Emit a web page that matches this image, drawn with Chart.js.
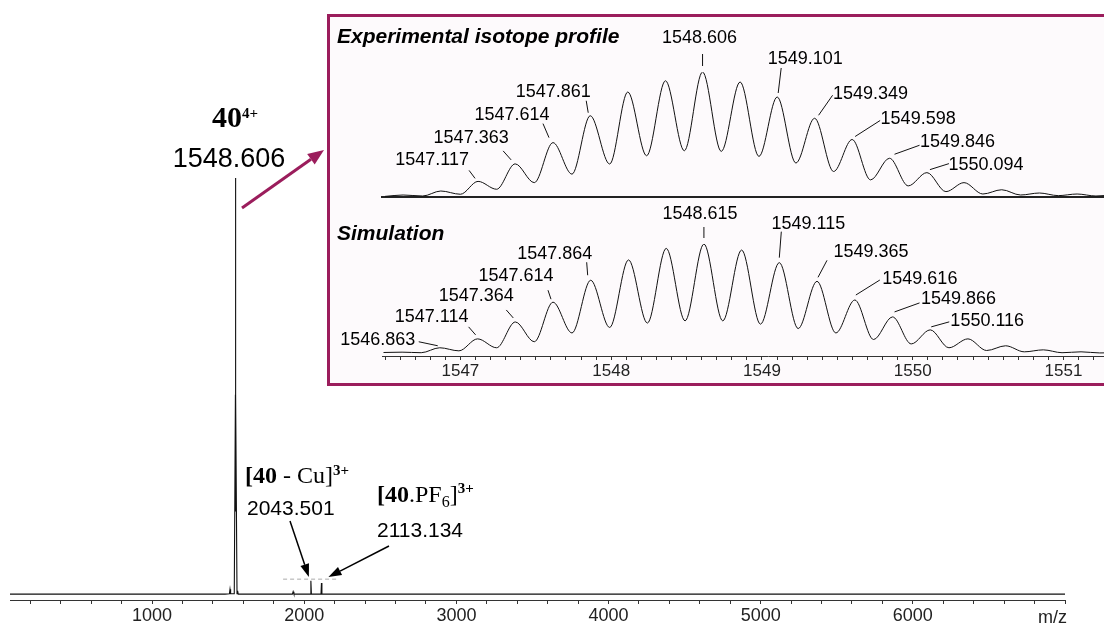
<!DOCTYPE html>
<html>
<head>
<meta charset="utf-8">
<script src="https://cdn.jsdelivr.net/npm/chart.js@4.4.0/dist/chart.umd.min.js"></script>
<style>
  html, body { margin: 0; padding: 0; overflow: hidden; background: #fff; }
  #wrap { position: relative; width: 1104px; height: 626px; }
  #mainChart { position: absolute; left: 0; top: 0; }
  #inset {
    position: absolute; left: 327px; top: 14px; width: 830px; height: 366px;
    border: 3px solid #9b1d5c; background: #fdfafc;
  }
  #expChart { position: absolute; left: 0; top: 0; }
  #simChart { position: absolute; left: 0; top: 183px; }
</style>
</head>
<body>
<div id="wrap">
  <canvas id="mainChart" width="1104" height="626"></canvas>
  <div id="inset">
    <canvas id="expChart" width="830" height="183"></canvas>
    <canvas id="simChart" width="830" height="183"></canvas>
  </div>
</div>
<script>
// full spectrum (m/z, relative intensity)
const mainMz  = [66, 1480, 1508, 1512, 1516, 1540, 1547.6, 1548.0, 1548.606, 1549.2, 1549.6, 1558, 1562, 1566, 1922, 1927, 1932, 2040, 2043.5, 2047, 2110, 2113.1, 2116, 7000];
const mainInt = [0.2, 0.2, 0.3, 1.4, 0.3, 0.3, 48, 20, 100, 20, 48, 0.3, 1.0, 0.2, 0.2, 0.8, 0.2, 0.2, 3.4, 0.2, 0.2, 2.9, 0.2, 0.2];
const mainTickLabels = [1000, 2000, 3000, 4000, 5000, 6000];
// grey dashed trace above the 3+ ions
const dashMz  = [1861, 2216];
const dashInt = [3.8, 3.8];

// experimental isotope profile: peaks and the minima between them
const expPeakMz   = [1546.62, 1546.87, 1547.117, 1547.363, 1547.614, 1547.861, 1548.11, 1548.36, 1548.606, 1548.855, 1549.101, 1549.349, 1549.598, 1549.846, 1550.094, 1550.34, 1550.59, 1550.84, 1551.09, 1551.34];
const expPeakInt  = [1.6, 4.8, 12.5, 26.5, 43.5, 65, 84, 93, 100, 92, 80, 63, 46, 31, 19.5, 11.5, 5.8, 3.2, 2.4, 1.6];
const expValleyMz = [1546.50, 1546.75, 1547.0, 1547.24, 1547.49, 1547.74, 1547.99, 1548.235, 1548.485, 1548.73, 1548.98, 1549.225, 1549.475, 1549.72, 1549.97, 1550.22, 1550.465, 1550.715, 1550.965, 1551.215, 1551.5];
const expValleyInt = [0.5, 0.8, 2.2, 6.2, 11.5, 18.3, 26.4, 33, 37, 36.5, 32.5, 27.2, 20.4, 13.7, 8.9, 4.3, 2.4, 1.6, 1.1, 0.8, 0.5];
const expLabels = ['1547.117', '1547.363', '1547.614', '1547.861', '1548.606', '1549.101', '1549.349', '1549.598', '1549.846', '1550.094'];

// simulated isotope pattern
const simPeakMz   = [1546.613, 1546.863, 1547.114, 1547.364, 1547.614, 1547.864, 1548.115, 1548.365, 1548.615, 1548.865, 1549.115, 1549.365, 1549.616, 1549.866, 1550.116, 1550.366, 1550.616, 1550.866, 1551.116, 1551.366];
const simPeakInt  = [1.5, 5.5, 13.6, 29, 47, 67, 85.5, 96, 100, 94.5, 83, 66, 49, 33.6, 21.8, 13.6, 7.3, 3.6, 1.8, 1.0];
const simValleyMz = [1546.49, 1546.74, 1546.99, 1547.24, 1547.49, 1547.74, 1547.99, 1548.24, 1548.49, 1548.74, 1548.99, 1549.24, 1549.49, 1549.74, 1549.99, 1550.24, 1550.49, 1550.74, 1550.99, 1551.24, 1551.5];
const simValleyInt = [1.2, 1.0, 2.7, 5.5, 11, 19, 24, 28, 30, 30, 27, 23, 19, 13, 9, 5.5, 3, 1.8, 1.0, 0.8, 0.5];
const simLabels = ['1546.863', '1547.114', '1547.364', '1547.614', '1547.864', '1548.615', '1549.115', '1549.365', '1549.616', '1549.866', '1550.116'];
const insetTickLabels = [1547, 1548, 1549, 1550, 1551];

// where each label sits relative to its peak top: text dx,dy / leader start / leader end
const expLabelPos = [
  [-46, -21, -9, -11, -3, -3], [-44, -26, -12, -13, -4, -4], [-41, -28, -10, -19, -4, -5],
  [-37, -24, -4, -15, -2, -3], [-3, -34, 0, -18, 0, -6], [28, -38, 4, -29, 1, -4],
  [56, -24, 18, -23, 4, -3], [66, -20, 28, -19, 3, -3], [68, -16, 30, -13, 5, -4], [59, -8, 22, -9, 3, -3]
];
const simLabelPos = [
  [-62, -8, -21, -6, -2, -2], [-46, -22, -9, -12, -2, -4], [-39, -26, -9, -12, -2, -4],
  [-37, -26, -5, -12, -2, -3], [-36, -26, -4, -18, -3, -5], [-4, -30, 0, -17, 0, -6],
  [29, -39, 2, -31, 0, -5], [54, -29, 10, -21, 1, -4], [65, -21, 25, -20, 1, -5],
  [66, -18, 27, -14, 2, -5], [57, -9, 19, -8, 1, -3]
];

const SANS = '"Liberation Sans", Arial, sans-serif';
const SERIF = '"Liberation Serif", "Times New Roman", serif';
const PURPLE = '#9b1d5c';

function toPoints(xs, ys) {
  return xs.map((v, i) => ({ x: v, y: ys[i] }));
}
function profile(pm, pi, vm, vi) {
  return toPoints(pm.concat(vm), pi.concat(vi)).sort((a, b) => a.x - b.x);
}

function arrow(ctx, x1, y1, x2, y2, color, w, hl, hw) {
  const a = Math.atan2(y2 - y1, x2 - x1);
  const bx = x2 - hl * Math.cos(a), by = y2 - hl * Math.sin(a);
  ctx.strokeStyle = color; ctx.fillStyle = color; ctx.lineWidth = w;
  ctx.beginPath(); ctx.moveTo(x1, y1); ctx.lineTo(bx, by); ctx.stroke();
  ctx.beginPath();
  ctx.moveTo(x2, y2);
  ctx.lineTo(bx + hw / 2 * Math.sin(a), by - hw / 2 * Math.cos(a));
  ctx.lineTo(bx - hw / 2 * Math.sin(a), by + hw / 2 * Math.cos(a));
  ctx.closePath(); ctx.fill();
}

// pieces: [text, font, dy]
function richText(ctx, x, y, pieces) {
  ctx.textAlign = 'left'; ctx.textBaseline = 'alphabetic';
  pieces.forEach(p => {
    ctx.font = p[1];
    ctx.fillText(p[0], x, y + (p[2] || 0));
    x += ctx.measureText(p[0]).width;
  });
}

const mainNotes = {
  id: 'mainNotes',
  afterDraw(chart) {
    const ctx = chart.ctx, xs = chart.scales.x;
    ctx.save();
    ctx.fillStyle = '#000';
    richText(ctx, 212, 127, [['40', 'bold 30px ' + SERIF], ['4+', 'bold 15px ' + SERIF, -9]]);
    ctx.font = '27px ' + SANS; ctx.textAlign = 'center';
    ctx.fillText('1548.606', 229, 167);

    ctx.fillStyle = '#000';
    richText(ctx, 245, 483, [['[', 'bold 24px ' + SERIF], ['40', 'bold 24px ' + SERIF],
      [' - Cu]', '24px ' + SERIF], ['3+', 'bold 15px ' + SERIF, -8]]);
    ctx.font = '21px ' + SANS; ctx.fillText('2043.501', 247, 515);
    richText(ctx, 377, 502, [['[', 'bold 24px ' + SERIF], ['40', 'bold 24px ' + SERIF],
      ['.PF', '24px ' + SERIF], ['6', '16px ' + SERIF, 5], [']', '24px ' + SERIF], ['3+', 'bold 15px ' + SERIF, -9]]);
    ctx.font = '21px ' + SANS; ctx.fillText('2113.134', 377, 537);

    arrow(ctx, 242, 208, 324, 150, PURPLE, 3, 16, 13);
    arrow(ctx, 290, 521, xs.getPixelForValue(2043.5) - 2, 577, '#000', 1.5, 13, 9);
    arrow(ctx, 389, 546, xs.getPixelForValue(2113.1) + 7, 577, '#000', 1.5, 13, 9);

    ctx.fillStyle = '#222';
    ctx.font = '18px ' + SANS; ctx.textAlign = 'right'; ctx.textBaseline = 'alphabetic';
    ctx.fillText('m/z', chart.chartArea.right + 2, 623);
    ctx.restore();
  }
};

function peakNotes(id, title, titleY, labels, pos, pm, pi) {
  return {
    id: id,
    afterDraw(chart) {
      const ctx = chart.ctx, xs = chart.scales.x, ys = chart.scales.y;
      ctx.save();
      ctx.fillStyle = '#000';
      ctx.font = 'italic bold 21px ' + SANS;
      ctx.textAlign = 'left'; ctx.textBaseline = 'alphabetic';
      ctx.fillText(title, 7, titleY);
      ctx.font = '18px ' + SANS;
      ctx.textAlign = 'center'; ctx.textBaseline = 'middle';
      ctx.strokeStyle = '#111'; ctx.lineWidth = 1;
      labels.forEach((t, i) => {
        const m = parseFloat(t);
        const k = pm.indexOf(m);
        const px = xs.getPixelForValue(m), py = ys.getPixelForValue(pi[k]);
        const o = pos[i];
        ctx.fillText(t, px + o[0], py + o[1]);
        ctx.beginPath();
        ctx.moveTo(px + o[2], py + o[3]);
        ctx.lineTo(px + o[4], py + o[5]);
        ctx.stroke();
      });
      ctx.restore();
    }
  };
}

const common = {
  responsive: false,
  animation: false,
  events: [],
  plugins: { legend: { display: false }, tooltip: { enabled: false } }
};

new Chart(document.getElementById('mainChart'), {
  type: 'line',
  data: {
    datasets: [
      { data: toPoints(mainMz, mainInt), borderColor: '#111', borderWidth: 1.1, pointRadius: 0, tension: 0 },
      { data: toPoints(dashMz, dashInt), borderColor: '#aaa', borderWidth: 1, borderDash: [4, 3], pointRadius: 0 }
    ]
  },
  options: Object.assign({}, common, {
    layout: { padding: { left: 10, right: 39, top: 178, bottom: 0 } },
    scales: {
      x: {
        type: 'linear', min: 66, max: 7000,
        afterBuildTicks: s => {
          s.ticks = [];
          for (let v = 200; v <= 7000; v += 200) s.ticks.push({ value: v });
        },
        afterFit: s => { s.height = 26; },
        ticks: {
          autoSkip: false, maxRotation: 0, padding: 1, color: '#222',
          font: { family: SANS, size: 18 },
          callback: v => mainTickLabels.includes(v) ? String(v) : ''
        },
        grid: { drawOnChartArea: false, drawTicks: true, tickLength: 4, color: '#333' },
        border: { display: true, color: '#333', width: 1 }
      },
      y: { display: false, min: -1.2, max: 100 }
    }
  }),
  plugins: [mainNotes]
});

new Chart(document.getElementById('expChart'), {
  type: 'line',
  data: {
    datasets: [{
      data: profile(expPeakMz, expPeakInt, expValleyMz, expValleyInt),
      borderColor: '#111', borderWidth: 1, pointRadius: 0, cubicInterpolationMode: 'monotone'
    }]
  },
  options: Object.assign({}, common, {
    layout: { padding: { left: 52, right: 6, top: 55, bottom: 1 } },
    scales: {
      x: {
        type: 'linear', min: 1546.48, max: 1551.6,
        afterFit: s => { s.height = 2; },
        ticks: { display: false },
        grid: { display: false },
        border: { display: true, color: '#222', width: 2 }
      },
      y: { display: false, min: 0, max: 100 }
    }
  }),
  plugins: [peakNotes('expNotes', 'Experimental isotope profile', 26, expLabels, expLabelPos, expPeakMz, expPeakInt)]
});

new Chart(document.getElementById('simChart'), {
  type: 'line',
  data: {
    datasets: [{
      data: profile(simPeakMz, simPeakInt, simValleyMz, simValleyInt),
      borderColor: '#111', borderWidth: 1, pointRadius: 0, cubicInterpolationMode: 'monotone'
    }]
  },
  options: Object.assign({}, common, {
    layout: { padding: { left: 52, right: 6, top: 44, bottom: 0 } },
    scales: {
      x: {
        type: 'linear', min: 1546.48, max: 1551.6,
        afterBuildTicks: s => {
          s.ticks = [];
          for (let i = 0; i <= 51; i++) s.ticks.push({ value: Math.round((1546.5 + i * 0.1) * 10) / 10 });
        },
        afterFit: s => { s.height = 27; },
        ticks: {
          autoSkip: false, maxRotation: 0, padding: 1, color: '#222',
          font: { family: SANS, size: 17 },
          callback: v => insetTickLabels.includes(v) ? String(v) : ''
        },
        grid: { drawOnChartArea: false, drawTicks: true, tickLength: 4, color: '#333' },
        border: { display: true, color: '#333', width: 1 }
      },
      y: { display: false, min: -2, max: 100 }
    }
  }),
  plugins: [peakNotes('simNotes', 'Simulation', 40, simLabels, simLabelPos, simPeakMz, simPeakInt)]
});
</script>
</body>
</html>
